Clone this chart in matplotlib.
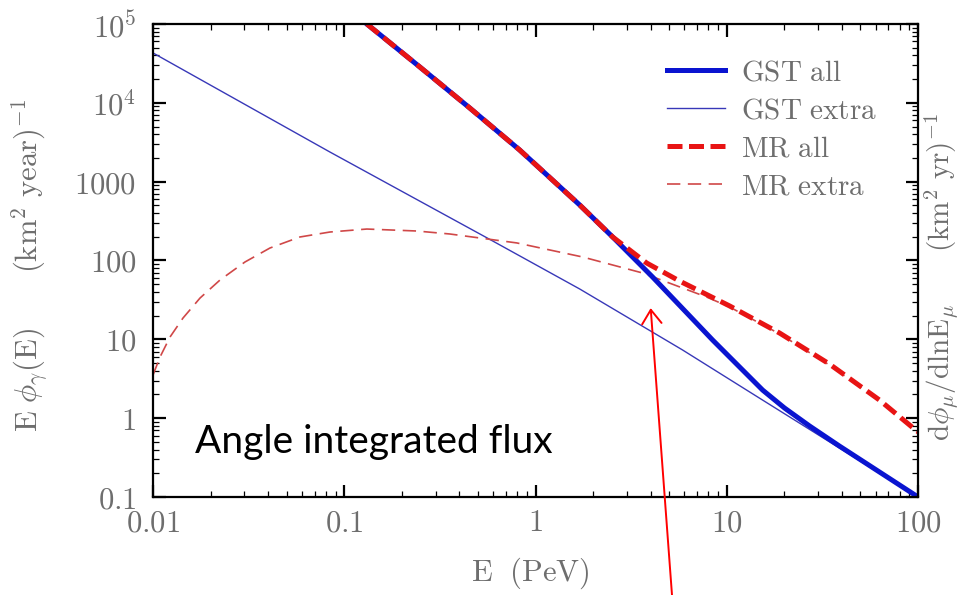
import numpy as np
import matplotlib
matplotlib.use('Agg')
import matplotlib.pyplot as plt
from matplotlib.ticker import FixedLocator, FixedFormatter, LogLocator, NullFormatter

plt.rcParams['mathtext.fontset'] = 'cm'

# values (E in PeV, flux)
gst_all_E = [0.1312, 0.2483, 0.4529, 0.826, 1.702, 2.531, 4.09, 8.43, 11.67, 15.4, 20.04,
             27.1, 38.8, 100]
gst_all_F = [1e5, 28480, 8596, 2521, 505.8, 198.6, 61.8, 9.8, 4.45, 2.27, 1.345,
             0.795, 0.443, 0.1]

gst_extra_E = [0.01, 0.0841, 0.5975, 1.702, 5.875, 14.8, 38.8, 100]
gst_extra_F = [42900, 2377, 176.6, 43.5, 7.32, 1.80, 0.418, 0.1]

mr_all_E = [0.1312, 0.2483, 0.4529, 0.826, 1.702, 2.531, 3.81, 5.66, 10.35, 18.9, 34.4, 62.8, 100]
mr_all_F = [1e5, 28480, 8596, 2521, 505.8, 198.6, 92.9, 54.9, 26.5, 12.0, 4.86, 1.70, 0.667]

mr_extra_E = [0.01, 0.01088, 0.01227, 0.01434, 0.01761, 0.02239, 0.03025, 0.04087, 0.0586,
              0.0841, 0.1312, 0.2393, 0.3565, 0.798, 1.765, 3.63, 7.84, 10.35, 18.9,
              34.4, 62.8, 100]
mr_extra_F = [3.53, 5.97, 10.7, 18.6, 33.4, 56.5, 95.7, 144, 198.6,
              229.7, 250.6, 236.6, 216.8, 167, 110.7, 69.4, 34.4, 25.7, 11.7,
              4.72, 1.65, 0.648]

xticks = [0.01, 0.1, 1, 10, 100]
xlabels = ['$0.01$', '$0.1$', '$1$', '$10$', '$100$']
yticks = [0.1, 1, 10, 100, 1000, 1e4, 1e5]
ylabels = ['$0.1$', '$1$', '$10$', '$100$', '$1000$', '$10^4$', '$10^5$']

grey = '#6e6e6e'

fig = plt.figure(figsize=(9.6, 5.95), dpi=100)
ax = fig.add_axes([0.1594, 0.1647, 0.7969, 0.795])

ax.loglog(gst_extra_E, gst_extra_F, color='#3838b8', lw=1.0, label=r'$\mathrm{GST\ extra}$')
ax.loglog(mr_extra_E, mr_extra_F, color='#d04848', lw=1.2, dashes=(8, 4.5), label=r'$\mathrm{MR\ extra}$')
ax.loglog(gst_all_E, gst_all_F, color='#0a14d0', lw=3.6, label=r'$\mathrm{GST\ all}$')
ax.loglog(mr_all_E, mr_all_F, color='#e81414', lw=3.6, dashes=(3.0, 1.3), label=r'$\mathrm{MR\ all}$')

ax.set_xlim(0.01, 100)
ax.set_ylim(0.1, 1e5)

ax.xaxis.set_major_locator(FixedLocator(xticks))
ax.xaxis.set_major_formatter(FixedFormatter(xlabels))
ax.yaxis.set_major_locator(FixedLocator(yticks))
ax.yaxis.set_major_formatter(FixedFormatter(ylabels))
ax.xaxis.set_minor_locator(LogLocator(base=10, subs=np.arange(2, 10), numticks=20))
ax.yaxis.set_minor_locator(LogLocator(base=10, subs=np.arange(2, 10), numticks=20))
ax.xaxis.set_minor_formatter(NullFormatter())
ax.yaxis.set_minor_formatter(NullFormatter())

ax.tick_params(which='both', direction='in', top=True, right=True, labelsize=22,
               labelcolor=grey)
ax.tick_params(which='major', length=9, width=1.6)
ax.tick_params(which='minor', length=4, width=0.9)
ax.tick_params(axis='y', pad=12)
ax.tick_params(axis='x', pad=8)
for s in ax.spines.values():
    s.set_linewidth(1.6)

# handles in legend order
h, l = ax.get_legend_handles_labels()
order = [2, 0, 3, 1]
leg = ax.legend([h[i] for i in order], [l[i] for i in order], loc='upper left',
                bbox_to_anchor=(0.672, 0.928), frameon=False, fontsize=21,
                handlelength=2.0, handletextpad=0.55, labelspacing=0.35,
                borderpad=0, borderaxespad=0)
for t in leg.get_texts():
    t.set_color(grey)

ax.text(0.055, 0.093, 'Angle integrated flux', transform=ax.transAxes,
        family=['Lato', 'DejaVu Sans'], fontsize=28, color='black')

fig.text(530 / 960, 1 - 573 / 595, r'$\mathrm{E\ \ (PeV)}$', ha='center', va='center',
         fontsize=22, color=grey)
fig.text(30 / 960, 1 - 265 / 595,
         r'$\mathrm{E}\ \phi_{\gamma}(\mathrm{E})\qquad(\mathrm{km}^2\ \mathrm{year})^{-1}$',
         rotation=90, ha='center', va='center', fontsize=22, color=grey)
fig.text(941 / 960, 1 - 277 / 595,
         r'$\mathrm{d}\phi_{\mu}/\mathrm{dlnE}_{\mu}\qquad(\mathrm{km}^2\ \mathrm{yr})^{-1}$',
         rotation=90, ha='center', va='center', fontsize=21, color=grey)

ax.annotate('', xy=(4.0, 24.9), xycoords='data', xytext=(672 / 960, 0.0),
            textcoords='figure fraction', annotation_clip=False,
            arrowprops=dict(arrowstyle='->,head_length=1.0,head_width=0.7',
                            mutation_scale=10, color='red', lw=1.4,
                            shrinkA=0, shrinkB=0))

fig.savefig('out.png', dpi=100, facecolor='white')
